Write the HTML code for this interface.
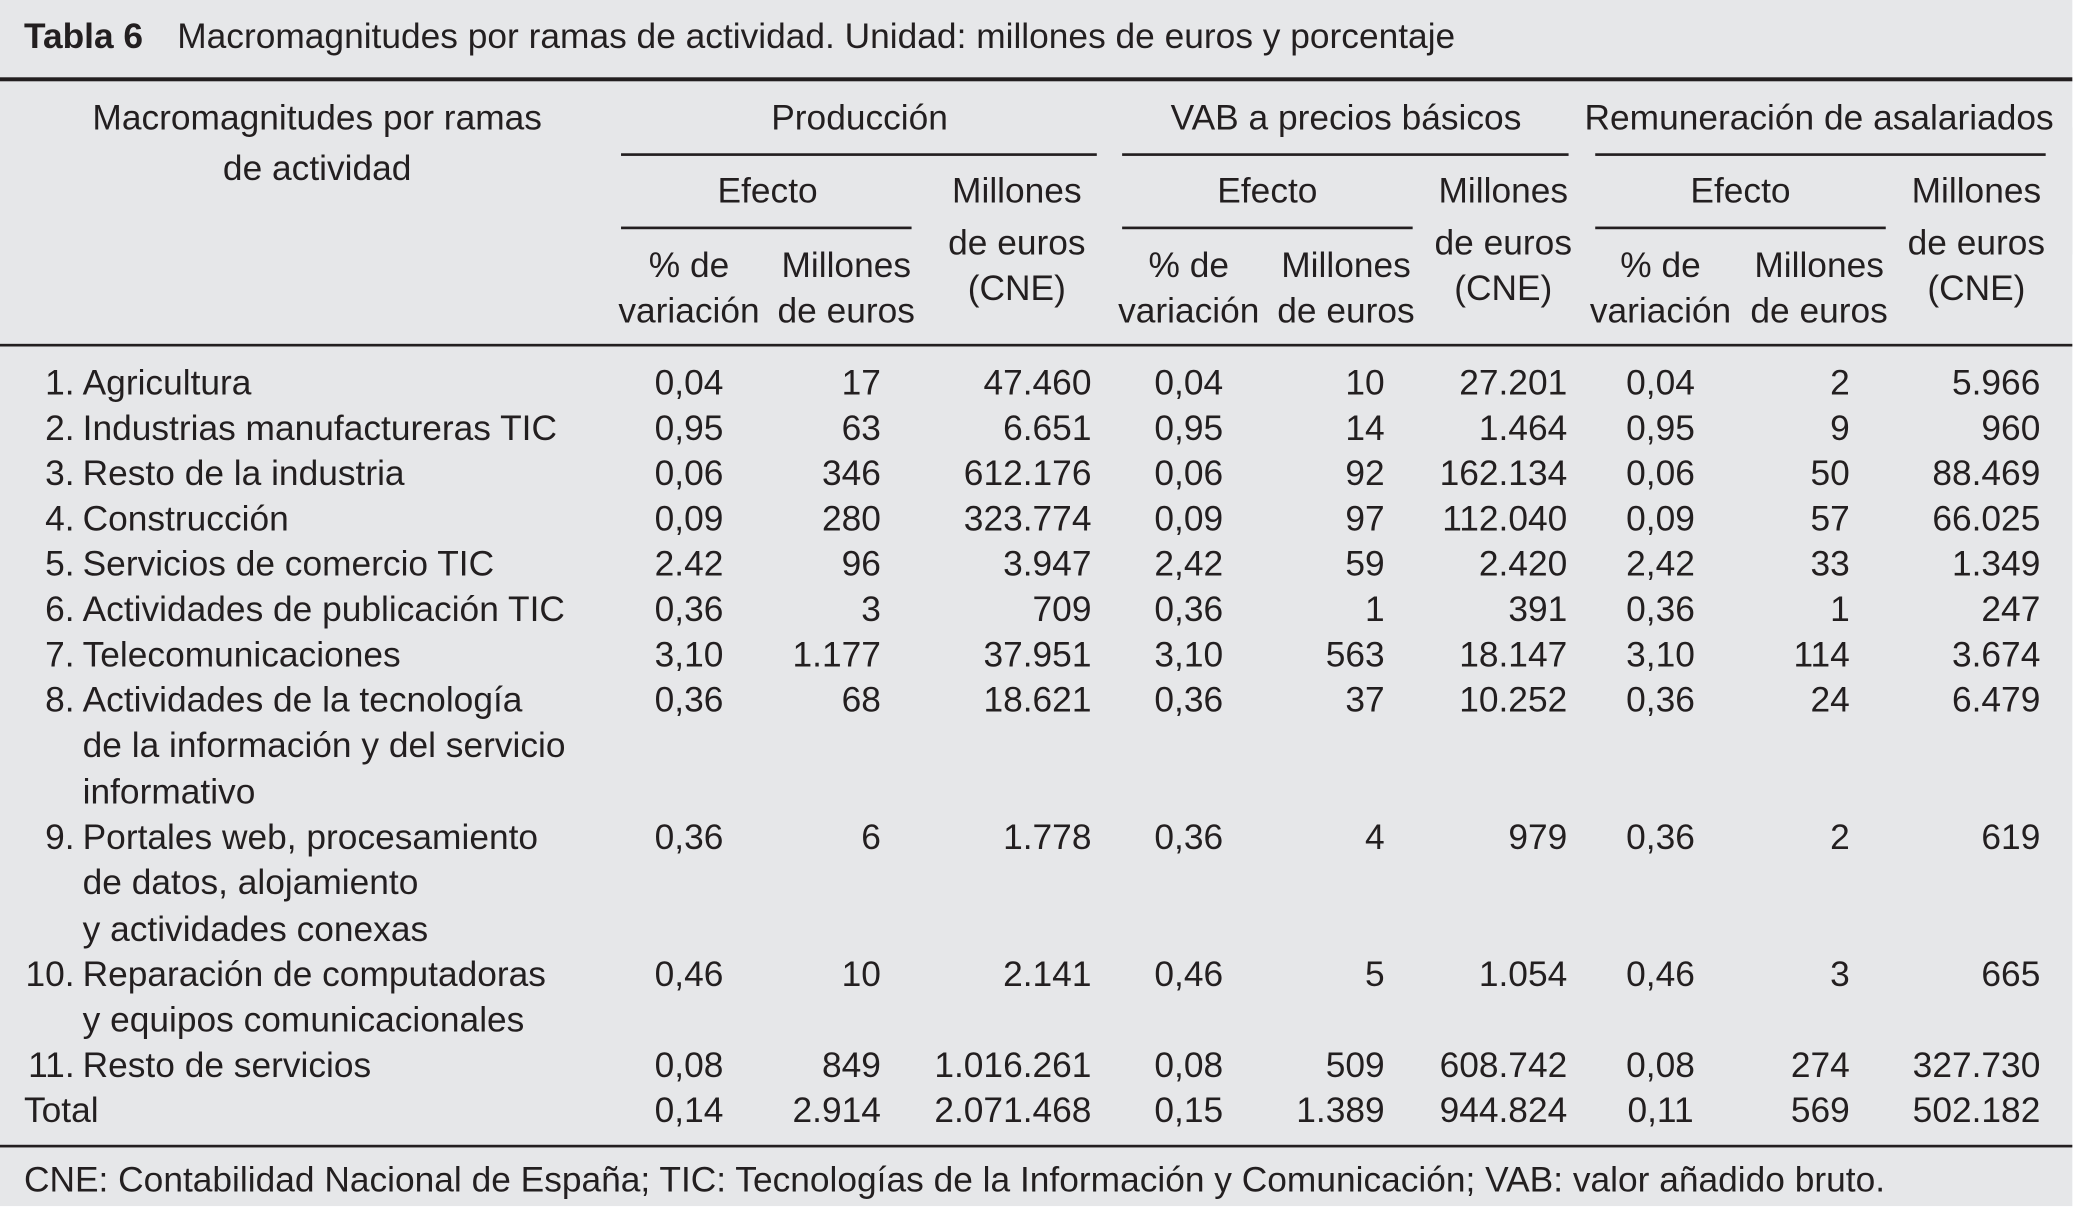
<!DOCTYPE html>
<html><head><meta charset="utf-8">
<style>
html,body{margin:0;padding:0;background:#fff;}
body{width:2079px;height:1220px;overflow:hidden;position:relative;}
#wrap{position:absolute;left:0;top:0;width:1555px;height:905px;background:#e6e7e9;transform-origin:0 0;transform:scale(1.33269);font-family:"Liberation Sans",sans-serif;color:#231f20;}
.t{position:absolute;white-space:nowrap;font-size:26.5px;line-height:30px;height:30px;letter-spacing:0;}
.ln{position:absolute;background:#231f20;}
</style></head><body>
<div id="wrap"></div>
<script>
const W=document.getElementById('wrap');
function T(txt,x,y,al,name,extra){
  const e=document.createElement('div');
  e.className='t';
  
  
  e.textContent=txt;
  e.style.top=(y-16)+'px';
  if(al==='l'){e.style.left=x+'px';}
  else if(al==='r'){e.style.right=(1555-x)+'px';}
  else {e.style.left=(x-300)+'px';e.style.width='600px';e.style.textAlign='center';}
  if(extra) e.style.cssText+=extra;
  W.appendChild(e);return e;
}
function L(x1,x2,y,h,name){
  const e=document.createElement('div');
  e.className='ln';
  
  
  e.style.left=x1+'px';e.style.width=(x2-x1)+'px';e.style.top=(y-h/2)+'px';e.style.height=h+'px';
  W.appendChild(e);
}
// title
T('Tabla 6',18,28,'l','table-number','font-weight:bold;');
T('Macromagnitudes por ramas de actividad. Unidad: millones de euros y porcentaje',133,28,'l','table-title');
L(0,1555,59,3,'top-rule');
// header
T('Macromagnitudes por ramas',238,89,'c','row-header-line1');
T('de actividad',238,127,'c','row-header-line2');
const groups=[['Producción',645,466,823,576,466,684,763,517,635],['VAB a precios básicos',1010,842,1177,951,842,1060,1128,892,1010],['Remuneración de asalariados',1365,1197,1535,1306,1197,1415,1483,1246,1365]];
groups.forEach((g,i)=>{
  T(g[0],g[1],89,'c','group-header-'+i);
  L(g[2],g[3],116,1.6,'group-rule-'+i);
  T('Efecto',g[4],144,'c','efecto-header-'+i);
  L(g[5],g[6],171,1.6,'efecto-rule-'+i);
  T('Millones',g[7],144,'c','cne-header-a-'+i);
  T('de euros',g[7],183,'c','cne-header-b-'+i);
  T('(CNE)',g[7],217,'c','cne-header-c-'+i);
  T('% de',g[8],200,'c','pct-header-a-'+i);
  T('variación',g[8],234,'c','pct-header-b-'+i);
  T('Millones',g[9],200,'c','eff-header-a-'+i);
  T('de euros',g[9],234,'c','eff-header-b-'+i);
});
L(0,1555,259,2,'header-rule');
// data
const nums=['1.','2.','3.','4.','5.','6.','7.','8.','9.','10.','11.',''];
const labels=[['Agricultura'],['Industrias manufactureras TIC'],['Resto de la industria'],['Construcción'],['Servicios de comercio TIC'],['Actividades de publicación TIC'],['Telecomunicaciones'],['Actividades de la tecnología','de la información y del servicio','informativo'],['Portales web, procesamiento','de datos, alojamiento','y actividades conexas'],['Reparación de computadoras','y equipos comunicacionales'],['Resto de servicios'],['Total']];
const rowY=[288,322,356,390,424,458,492,526,629,732,800,834];
const vals=[
['0,04','17','47.460','0,04','10','27.201','0,04','2','5.966'],
['0,95','63','6.651','0,95','14','1.464','0,95','9','960'],
['0,06','346','612.176','0,06','92','162.134','0,06','50','88.469'],
['0,09','280','323.774','0,09','97','112.040','0,09','57','66.025'],
['2.42','96','3.947','2,42','59','2.420','2,42','33','1.349'],
['0,36','3','709','0,36','1','391','0,36','1','247'],
['3,10','1.177','37.951','3,10','563','18.147','3,10','114','3.674'],
['0,36','68','18.621','0,36','37','10.252','0,36','24','6.479'],
['0,36','6','1.778','0,36','4','979','0,36','2','619'],
['0,46','10','2.141','0,46','5','1.054','0,46','3','665'],
['0,08','849','1.016.261','0,08','509','608.742','0,08','274','327.730'],
['0,14','2.914','2.071.468','0,15','1.389','944.824','0,11','569','502.182']];
const colX=[517,661,819,892,1039,1176,1246,1388,1531];
const colA=['c','r','r','c','r','r','c','r','r'];
labels.forEach((lab,r)=>{
  const y=rowY[r];
  if(nums[r]) T(nums[r],56,y,'r','row-number-'+(r+1));
  lab.forEach((s,k)=>T(s,r===11?18:62,y+k*34.3,'l','row-label-'+(r+1)));
  vals[r].forEach((v,c)=>T(v,colX[c],y,colA[c],'cell-r'+(r+1)+'-c'+(c+1)));
});
L(0,1555,860,2.2,'bottom-rule');
T('CNE: Contabilidad Nacional de España; TIC: Tecnologías de la Información y Comunicación; VAB: valor añadido bruto.',18,886,'l','footnote');
</script>
</body></html>
